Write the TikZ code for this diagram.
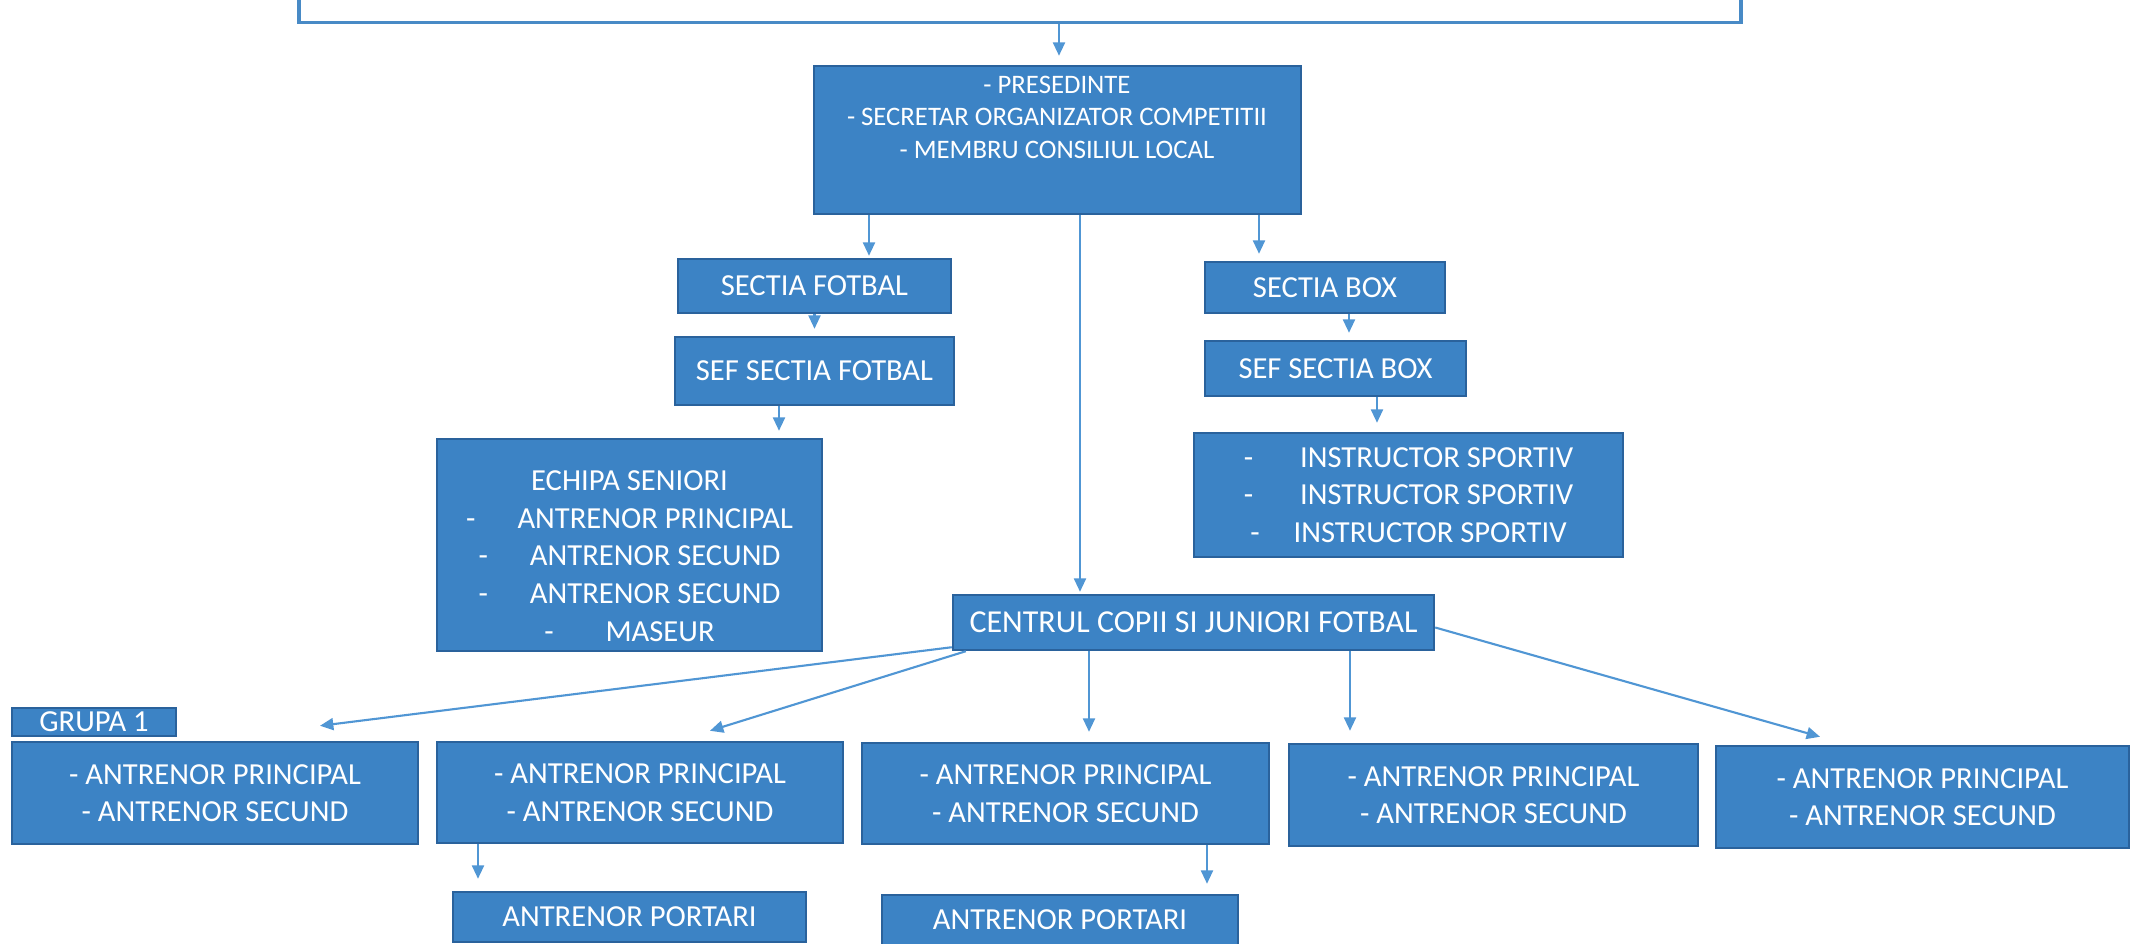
\documentclass[tikz,border=0pt]{standalone}
\usepackage{fontspec}
\setmainfont{Carlito}
\usetikzlibrary{arrows.meta}
\definecolor{boxblue}{RGB}{60,131,197}
\definecolor{rimblue}{RGB}{42,98,156}
\definecolor{lineblue}{RGB}{80,150,212}
\definecolor{framblue}{RGB}{72,138,198}
\tikzset{>={Triangle[width=3.4pt,length=3.8pt]}}
\tikzset{%
    box/.style={%
        draw=rimblue, fill=boxblue, line width=0.7pt, text=white,
        align=center, inner sep=0pt,
        font=\fontsize{8.7}{10.7}\selectfont},
    link/.style={->, draw=lineblue, fill=lineblue, line width=0.6pt, shorten >=0.07cm}
}
\newcommand{\itm}[1][0.42cm]{-\hspace{#1}}

\begin{document}
\begin{tikzpicture}
    \useasboundingbox (0,0) rectangle (21.32,-9.44);
    \fill[white] (0,0) rectangle (21.32,-9.44);
    \draw[framblue, line width=1.1pt, fill=white] (2.99,0.4) rectangle (17.41,-0.225);
    \coordinate (frame) at (10.59,-0.24);
    % conducere
    \node[box, minimum width=4.87cm, minimum height=1.48cm] (pres) at (10.575,-1.40) {};
    \node[text=white, align=center, inner sep=0pt, anchor=north,
          font=\fontsize{7.6}{9.25}\selectfont] (prestxt) at (10.57,-0.75)
        {- PRESEDINTE\\ - SECRETAR ORGANIZATOR COMPETITII\\ - MEMBRU CONSILIUL LOCAL};
    % fotbal
    \node[box, minimum width=2.73cm, minimum height=0.54cm] (sfot) at (8.145,-2.86) {SECTIA FOTBAL};
    \node[box, minimum width=2.79cm, minimum height=0.68cm] (seffot) at (8.145,-3.71) {SEF SECTIA FOTBAL};
    \node[box, minimum width=3.85cm, minimum height=2.12cm] (echipa) at (6.295,-5.45)
        {\rule{0pt}{12pt}ECHIPA SENIORI\\ \itm ANTRENOR PRINCIPAL\\ \itm ANTRENOR SECUND\\
         \itm ANTRENOR SECUND\\ \itm[0.45cm] MASEUR};
    % box
    \node[box, minimum width=2.40cm, minimum height=0.51cm] (sbox) at (13.25,-2.875) {SECTIA BOX};
    \node[box, minimum width=2.61cm, minimum height=0.55cm] (sefbox) at (13.355,-3.685) {SEF SECTIA BOX};
    \node[box, minimum width=4.29cm, minimum height=1.24cm] (instr) at (14.085,-4.95)
        {\itm[0.4cm] INSTRUCTOR SPORTIV\\ \itm[0.4cm] INSTRUCTOR SPORTIV\\ \itm[0.27cm] INSTRUCTOR SPORTIV};
    % copii si juniori
    \node[box, minimum width=4.81cm, minimum height=0.55cm, font=\fontsize{9.1}{11}\selectfont] (centrul)
        at (11.935,-6.225) {CENTRUL COPII SI JUNIORI FOTBAL};
    \node[box, minimum width=1.64cm, minimum height=0.28cm] (grupa) at (0.94,-7.22) {GRUPA 1};
    \node[box, minimum width=4.06cm, minimum height=1.02cm] (g1) at (2.15,-7.93)
        {- ANTRENOR PRINCIPAL\\ - ANTRENOR SECUND};
    \node[box, minimum width=4.06cm, minimum height=1.01cm] (g2) at (6.40,-7.925)
        {- ANTRENOR PRINCIPAL\\ - ANTRENOR SECUND};
    \node[box, minimum width=4.07cm, minimum height=1.01cm] (g3) at (10.655,-7.935)
        {- ANTRENOR PRINCIPAL\\ - ANTRENOR SECUND};
    \node[box, minimum width=4.09cm, minimum height=1.02cm] (g4) at (14.935,-7.95)
        {- ANTRENOR PRINCIPAL\\ - ANTRENOR SECUND};
    \node[box, minimum width=4.13cm, minimum height=1.02cm] (g5) at (19.225,-7.97)
        {- ANTRENOR PRINCIPAL\\ - ANTRENOR SECUND};
    \node[box, minimum width=3.53cm, minimum height=0.50cm] (port1) at (6.295,-9.17) {ANTRENOR PORTARI};
    \node[box, minimum width=3.56cm, minimum height=0.50cm] (port2) at (10.60,-9.20) {ANTRENOR PORTARI};
    % legaturi
    \draw[link, shorten >=0.09cm] (frame) -- (frame |- pres.north);
    \draw[link, shorten >=0.02cm] (pres.south -| 8.69,0) -- (sfot.north -| 8.69,0);
    \draw[link] (pres.south -| 12.59,0) -- (sbox.north -| 12.59,0);
    \draw[link, shorten >=0.02cm] (pres.south -| 10.80,0) -- (centrul.north -| 10.80,0);
    \draw[link] (sfot) -- (seffot);
    \draw[link] (seffot.south -| 7.79,0) -- (echipa.north -| 7.79,0);
    \draw[link] (sbox.south -| 13.49,0) -- (sefbox.north -| 13.49,0);
    \draw[link, shorten >=0.09cm] (sefbox.south -| 13.77,0) -- (instr.north -| 13.77,0);
    \draw[link, shorten >=0pt] ([yshift=0.04cm]centrul.south west) -- ([shift={(1.05,0.15)}]g1.north);
    \draw[link, shorten >=0pt] ([xshift=0.14cm]centrul.south west) -- ([shift={(0.70,0.10)}]g2.north);
    \draw[link, shorten >=0.1cm] (centrul.south -| 10.89,0) -- (g3.north -| 10.89,0);
    \draw[link, shorten >=0.12cm] (centrul.south -| 13.50,0) -- (g4.north -| 13.50,0);
    \draw[link, shorten >=0pt] ([yshift=-0.05cm]centrul.east) -- ([shift={(-1.025,0.08)}]g5.north);
    \draw[link, shorten >=0.12cm] (g2.south -| 4.78,0) -- (port1.north -| 4.78,0);
    \draw[link, shorten >=0.1cm] (g3.south -| 12.07,0) -- (port2.north -| 12.07,0);
\end{tikzpicture}
\end{document}
